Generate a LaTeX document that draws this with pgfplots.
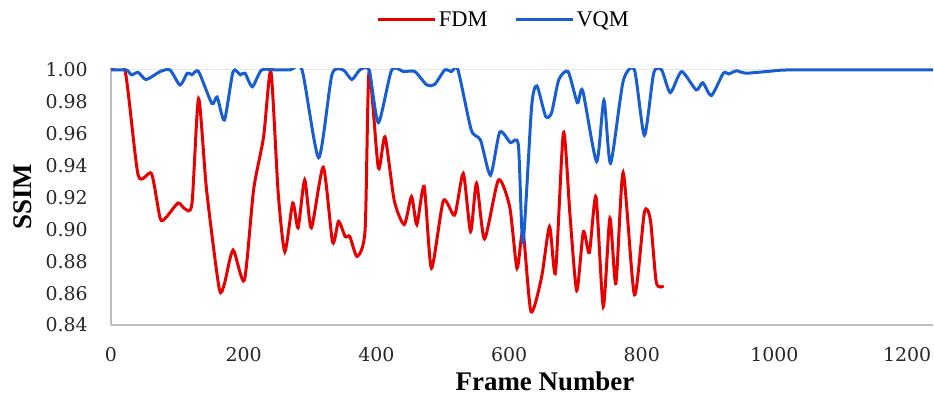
\documentclass[border=0pt]{standalone}
\usepackage{pgfplots}
\pgfplotsset{compat=1.18}
\usepackage{fontspec}
\setmainfont{Liberation Serif}
\newfontfamily\tickfont{DejaVu Serif}
\definecolor{fdm}{RGB}{232,0,0}
\definecolor{vqm}{RGB}{24,94,209}
\definecolor{axgray}{RGB}{191,191,191}
\begin{document}
\begin{tikzpicture}
\path[use as bounding box] (-111bp,-79bp) rectangle (823bp,325bp);
\begin{axis}[
  scale only axis,
  width=822bp, height=256.6bp,
  xmin=0, xmax=1239, ymin=0.84, ymax=1.001,
  axis x line*=bottom, axis y line*=left,
  axis line style={draw=axgray, line width=1.5bp},
  major tick length=0pt,
  xtick={0,200,400,600,800,1000,1200},
  xticklabels={0,200,400,600,800,1000,1200},
  ytick={0.84,0.86,0.88,0.90,0.92,0.94,0.96,0.98,1.00},
  yticklabels={0.84,0.86,0.88,0.90,0.92,0.94,0.96,0.98,1.00},
  tick label style={font=\tickfont\fontsize{19}{22}\selectfont, inner sep=0pt, text=black!85},
  yticklabel style={anchor=east, xshift=-23bp},
  xticklabel style={anchor=north, yshift=-22bp},
  extra y ticks={1.00}, extra y tick labels={},
  extra y tick style={grid=major, major grid style={draw=gray!20, line width=1bp}},
  xlabel={\textbf{Frame Number}},
  ylabel={\textbf{SSIM}},
  every axis x label/.style={at={(axis description cs:0.5,0)}, anchor=north, inner sep=0pt, yshift=-47bp, xshift=23bp, font=\fontsize{27}{30}\selectfont},
  every axis y label/.style={at={(axis description cs:0,0.5)}, xshift=-88bp, rotate=90, anchor=center, inner sep=0pt, font=\fontsize{27}{30}\selectfont},
  clip=true,
  legend columns=2,
  legend style={draw=none, fill=none, at={(0.478,1.19)}, anchor=center, font=\fontsize{22.5}{25}\selectfont,
    /tikz/every even column/.append style={column sep=25bp}, inner sep=0pt},
  legend image code/.code={\draw[#1, line width=3bp] (0bp,0bp) -- (57bp,0bp);},
]
\addplot[fdm, line width=3bp, smooth, tension=0.4] coordinates {
(0,1.000) (21,1.000) (41,0.934) (61,0.935) (74,0.907) (82,0.907) (101,0.9165)
(111,0.913) (122,0.916) (132,0.982) (144,0.925) (163,0.863) (171,0.866)
(184,0.887) (201,0.868) (215,0.925) (230,0.958) (241,0.999) (252,0.923)
(262,0.886) (274,0.9165) (282,0.901) (292,0.931) (302,0.901) (320,0.939)
(334,0.892) (343,0.905) (353,0.8955) (360,0.8955) (371,0.883) (383,0.8996)
(389,0.999) (403,0.9385) (413,0.958) (427,0.918) (442,0.903) (453,0.9205)
(461,0.903) (472,0.927) (483,0.8756) (501,0.918) (518,0.909) (531,0.935)
(542,0.8986) (551,0.929) (563,0.894) (584,0.931) (601,0.914) (612,0.8756)
(621,0.8986) (633,0.8484) (649,0.870) (661,0.9017) (670,0.873) (682,0.9607)
(692,0.908) (702,0.8616) (712,0.8986) (721,0.8854) (731,0.9205) (742,0.8515)
(752,0.907) (761,0.866) (772,0.9356) (789,0.8589) (804,0.9107) (813,0.906)
(822,0.8666) (833,0.8645)
};
\addlegendentry{FDM}
\addplot[vqm, line width=3bp, smooth, tension=0.4] coordinates {
(0,1.000) (23,1.000) (31,0.997) (41,0.9985) (53,0.994) (74,0.999) (89,1.000)
(104,0.9906) (115,0.998) (122,0.997) (132,0.999) (152,0.979) (160,0.983)
(171,0.9686) (184,0.999) (195,0.997) (202,0.998) (213,0.9895) (227,1.000)
(250,1.000) (270,1.000)
(288,1.000) (313,0.945) (333,0.997) (350,1.000) (363,0.994) (375,1.000)
(389,1.000) (403,0.967) (423,1.000) (441,0.999) (458,0.999) (476,0.9906)
(488,0.991) (503,1.000) (513,0.999) (523,1.000) (543,0.9624) (557,0.956)
(572,0.934) (586,0.961) (602,0.9544) (614,0.953) (621,0.8917) (634,0.977)
(642,0.990) (655,0.971) (664,0.973) (675,0.994) (689,0.999) (703,0.9795)
(711,0.987) (732,0.9425) (743,0.981) (753,0.9415) (772,0.993) (789,1.000)
(804,0.959) (818,0.998) (830,1.000) (843,0.9858) (860,0.999) (882,0.9875)
(892,0.992) (905,0.984) (923,0.998) (931,0.9975) (943,0.9995) (956,0.998)
(988,0.999) (1018,1.000) (1112,1.000) (1239,1.000)
};
\addlegendentry{VQM}
\end{axis}
\end{tikzpicture}
\end{document}
